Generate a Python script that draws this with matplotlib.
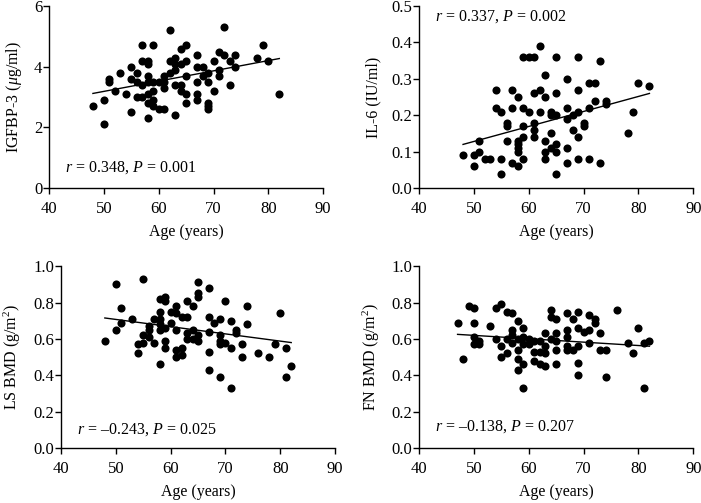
import matplotlib
matplotlib.use("Agg")
import matplotlib.pyplot as plt

plt.rcParams['font.family'] = ['Liberation Serif', 'DejaVu Serif']
plt.rcParams['mathtext.fontset'] = 'custom'
plt.rcParams['mathtext.rm'] = 'Liberation Serif'
plt.rcParams['mathtext.it'] = 'Liberation Serif:italic'
plt.rcParams['font.size'] = 11

# IGFBP-3 vs age
igf_age = [48, 50, 50, 51, 51, 52, 53, 54, 55, 55, 55, 56, 56, 56, 57, 57, 57, 57,
           58, 58, 58, 58, 58, 58, 58, 59, 59, 59, 59, 59, 60, 60, 61, 61, 61, 61,
           62, 62, 62, 63, 63, 63, 63, 63, 64, 64, 64, 64, 65, 65, 65, 65, 65,
           67, 67, 67, 67, 67, 68, 68, 69, 69, 69, 69, 69, 70, 70, 71, 71, 71,
           72, 72, 73, 73, 74, 74, 78, 79, 80, 82]
igf_val = [2.7, 2.9, 2.1, 3.6, 3.5, 3.2, 3.8, 3.1, 4.0, 3.6, 2.5, 3.8, 3.5, 3.0, 4.7, 4.2, 3.4, 3.0,
           4.2, 4.1, 3.7, 3.5, 3.1, 2.8, 2.3, 4.7, 3.5, 3.2, 2.9, 2.7, 3.5, 2.6, 3.7, 3.5, 3.3, 2.6,
           5.2, 4.2, 3.8, 4.3, 4.1, 3.9, 3.4, 2.4, 4.6, 4.1, 3.4, 3.2, 4.7, 4.2, 3.7, 3.1, 2.8,
           4.4, 4.0, 3.5, 3.1, 2.9, 4.0, 3.7, 3.8, 3.5, 2.8, 2.7, 2.6, 4.2, 3.2, 4.5, 3.9, 3.7,
           5.3, 4.4, 4.2, 3.4, 4.4, 4.0, 4.3, 4.7, 4.2, 3.1]
igf_fit = ([48, 82], [3.12, 4.27])

# IL-6 vs age
il6_age = [48, 50, 50, 51, 51, 52, 53, 54, 54, 55, 55, 55, 56, 56, 56, 57, 57, 57,
           58, 58, 58, 58, 58, 58, 59, 59, 59, 59, 59, 60, 60, 61, 61, 61, 61, 61,
           62, 62, 62, 63, 63, 63, 63, 63, 64, 64, 64, 64, 65, 65, 65, 65, 65, 65,
           67, 67, 67, 67, 67, 68, 68, 69, 69, 69, 69, 69, 70, 70, 71, 71, 71,
           72, 72, 73, 73, 74, 74, 78, 79, 80, 82]
il6_val = [0.09, 0.09, 0.06, 0.10, 0.13, 0.08, 0.08, 0.27, 0.22, 0.21, 0.08, 0.04, 0.18, 0.17, 0.13, 0.27, 0.22, 0.07,
           0.25, 0.13, 0.12, 0.11, 0.10, 0.06, 0.36, 0.22, 0.17, 0.14, 0.08, 0.36, 0.21, 0.36, 0.26, 0.18, 0.16, 0.14,
           0.39, 0.27, 0.21, 0.31, 0.25, 0.13, 0.10, 0.08, 0.21, 0.20, 0.15, 0.11, 0.36, 0.26, 0.20, 0.12, 0.10, 0.04,
           0.30, 0.22, 0.19, 0.11, 0.07, 0.20, 0.16, 0.36, 0.27, 0.21, 0.14, 0.08, 0.18, 0.17, 0.29, 0.22, 0.08,
           0.29, 0.24, 0.35, 0.07, 0.24, 0.23, 0.15, 0.21, 0.29, 0.28]
il6_fit = ([48, 82], [0.12, 0.26])

# LS BMD vs age
ls_age = [48, 50, 50, 51, 51, 53, 54, 54, 55, 55, 55, 56, 56, 56, 57, 57,
          58, 58, 58, 58, 58, 58, 59, 59, 59, 59, 59, 60, 60, 61, 61, 61, 61, 61,
          62, 62, 62, 63, 63, 63, 63, 64, 64, 64, 65, 65, 65, 65, 65,
          67, 67, 67, 67, 67, 68, 69, 69, 69, 69, 69, 70, 70, 71, 71, 71,
          72, 72, 73, 73, 74, 74, 76, 78, 79, 80, 81, 81, 82]
ls_val = [0.59, 0.90, 0.65, 0.77, 0.69, 0.71, 0.57, 0.52, 0.93, 0.62, 0.58, 0.67, 0.65, 0.61, 0.71, 0.58,
          0.82, 0.75, 0.71, 0.68, 0.65, 0.46, 0.83, 0.81, 0.66, 0.59, 0.55, 0.75, 0.69, 0.78, 0.74, 0.65, 0.54, 0.50,
          0.72, 0.55, 0.51, 0.81, 0.72, 0.63, 0.60, 0.78, 0.65, 0.60, 0.91, 0.85, 0.83, 0.62, 0.59,
          0.88, 0.72, 0.64, 0.53, 0.43, 0.69, 0.71, 0.62, 0.59, 0.57, 0.39, 0.81, 0.58, 0.70, 0.55, 0.33,
          0.65, 0.63, 0.57, 0.50, 0.78, 0.68, 0.52, 0.50, 0.57, 0.74, 0.55, 0.39, 0.45]
ls_fit = ([48, 82], [0.715, 0.58])

# FN BMD vs age
fn_age = [47, 48, 49, 50, 50, 50, 50, 51, 51, 53, 54, 54, 55, 55, 55, 56, 56, 56,
          57, 57, 57, 57, 58, 58, 58, 58, 58, 59, 59, 59, 59, 59, 60, 60, 61, 61, 61,
          62, 62, 62, 63, 63, 63, 63, 64, 64, 64, 65, 65, 65, 65, 65,
          67, 67, 67, 67, 67, 68, 68, 69, 69, 69, 69, 69, 70, 71, 71, 71, 72, 72,
          73, 73, 74, 74, 76, 78, 79, 80, 81, 81, 82]
fn_val = [0.69, 0.49, 0.78, 0.77, 0.69, 0.61, 0.57, 0.59, 0.57, 0.67, 0.77, 0.60, 0.79, 0.56, 0.50, 0.75, 0.60, 0.52,
          0.74, 0.65, 0.62, 0.58, 0.70, 0.60, 0.54, 0.49, 0.43, 0.66, 0.61, 0.57, 0.46, 0.33, 0.60, 0.57, 0.59, 0.53, 0.48,
          0.59, 0.53, 0.46, 0.63, 0.56, 0.52, 0.45, 0.76, 0.72, 0.60, 0.71, 0.63, 0.59, 0.54, 0.46,
          0.74, 0.65, 0.61, 0.56, 0.54, 0.71, 0.54, 0.75, 0.66, 0.56, 0.47, 0.40, 0.64, 0.73, 0.65, 0.58, 0.71, 0.69,
          0.63, 0.54, 0.54, 0.39, 0.76, 0.58, 0.52, 0.66, 0.58, 0.33, 0.59]
fn_fit = ([47, 82], [0.625, 0.56])

panels = [
    # axes rect, x, y, fit, ylabel, yticks, ylim, stat text, text pos, tick format
    ([0.070, 0.626, 0.391, 0.362], igf_age, igf_val, igf_fit, r'IGFBP-3 ($\mu$g/ml)',
     [0, 2, 4, 6], (0, 6), r'$r$ = 0.348, $P$ = 0.001', (42.9, 0.68), '{:.0f}'),
    ([0.598, 0.626, 0.391, 0.362], il6_age, il6_val, il6_fit, 'IL-6 (IU/ml)',
     [0.0, 0.1, 0.2, 0.3, 0.4, 0.5], (0, 0.5), r'$r$ = 0.337, $P$ = 0.002', (42.9, 0.47), '{:.1f}'),
    ([0.087, 0.109, 0.391, 0.362], ls_age, ls_val, ls_fit, r'LS BMD (g/m$^2$)',
     [0.0, 0.2, 0.4, 0.6, 0.8, 1.0], (0, 1.0), r'$r$ = –0.243, $P$ = 0.025', (42.9, 0.10), '{:.1f}'),
    ([0.598, 0.109, 0.391, 0.362], fn_age, fn_val, fn_fit, r'FN BMD (g/m$^2$)',
     [0.0, 0.2, 0.4, 0.6, 0.8, 1.0], (0, 1.0), r'$r$ = –0.138, $P$ = 0.207', (42.9, 0.12), '{:.1f}'),
]

fig = plt.figure(figsize=(7.01, 5.03), dpi=100)

for rect, xs, ys, fit, ylab, yt, ylim, stat, tpos, fmt in panels:
    ax = fig.add_axes(rect)
    ax.scatter(xs, ys, s=34, color='black', zorder=3, linewidths=0)
    ax.plot(fit[0], fit[1], color='black', lw=1.0, zorder=2)
    ax.set_xlim(40, 90)
    ax.set_ylim(*ylim)
    ax.set_xticks([40, 50, 60, 70, 80, 90])
    ax.set_yticks(yt)
    ax.set_yticklabels([fmt.format(v) for v in yt])
    for s in ['top', 'right']:
        ax.spines[s].set_visible(False)
    for s in ['left', 'bottom']:
        ax.spines[s].set_linewidth(1.0)
    ax.tick_params(direction='out', length=4, width=1.0, labelsize=12)
    ax.tick_params(axis='x', pad=5)
    ax.tick_params(axis='y', pad=1)
    ax.set_xlabel('Age (years)', fontsize=11.5, labelpad=5)
    ax.set_ylabel(ylab, fontsize=11.5, labelpad=7)
    ax.text(tpos[0], tpos[1], stat, fontsize=11.5, va='center', ha='left')

fig.savefig('out.png', dpi=100)
